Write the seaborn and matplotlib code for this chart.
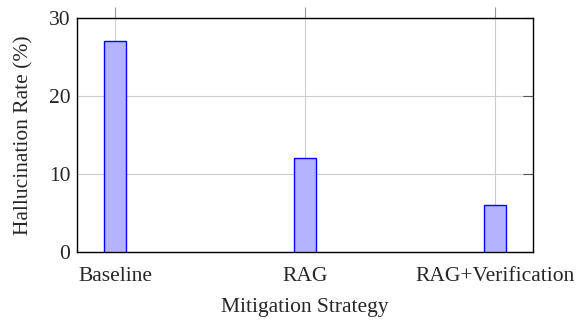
import matplotlib
matplotlib.use("Agg")
import matplotlib.pyplot as plt
import seaborn as sns
import pandas as pd

# data
strategies = ["Baseline", "RAG", "RAG+Verification"]
hallucination_rate = [27, 12, 6]

sns.set_theme(style="white")
plt.rcParams["font.family"] = ["Liberation Serif", "DejaVu Serif"]

df = pd.DataFrame({"strategy": strategies, "rate": hallucination_rate})

fig = plt.figure(figsize=(5.76, 3.22), dpi=100)
ax = fig.add_axes([0.134, 0.217, 0.791, 0.727])

sns.barplot(data=df, x="strategy", y="rate", ax=ax, width=0.116,
            color="#b3b3ff", edgecolor="#0000ff", linewidth=1.0,
            saturation=1, zorder=3)

ax.set_xlim(-0.2, 2.2)
ax.set_ylim(0, 30)
ax.set_yticks([0, 10, 20, 30])
ax.set_axisbelow(True)
ax.grid(True, color="#cccccc", linewidth=0.8)

for s in ax.spines.values():
    s.set_color("black")
    s.set_linewidth(1.0)

ax.tick_params(axis="x", direction="out", top=True, length=8, width=0.8,
               color="#999999", labelsize=15.5, pad=3)
ax.tick_params(axis="y", direction="in", right=True, length=7, width=0.8,
               color="#555555", labelsize=15.5, pad=5)

ax.set_xlabel("Mitigation Strategy", fontsize=15.5, labelpad=8)
ax.set_ylabel("Hallucination Rate (%)", fontsize=15.5, labelpad=11)

plt.savefig("out.png", dpi=100)
